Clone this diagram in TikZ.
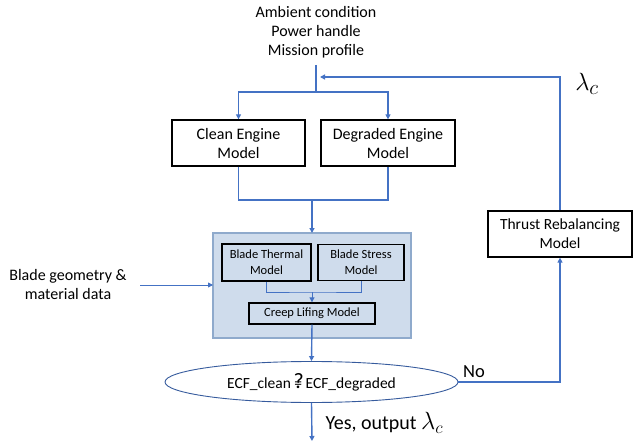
\documentclass[tikz,border=0pt]{standalone}
\usepackage{fontspec}
\setmainfont{Carlito}
\usetikzlibrary{arrows.meta,shapes.geometric}
\definecolor{flowblue}{HTML}{4472C4}
\definecolor{panelfill}{HTML}{CFDCEC}
\definecolor{paneledge}{HTML}{8FAACC}
\tikzset{
  flow/.style={draw=flowblue,line width=1.4pt},
  thinflow/.style={draw=flowblue,line width=0.8pt},
  tip/.style={-{Triangle[length=5pt,width=5pt]}},
  modelbox/.style={draw=black,line width=1.3pt,fill=white,align=center,inner sep=0pt},
  subbox/.style={draw=black,line width=1.3pt,fill=panelfill,align=center,inner sep=0pt,font=\fontsize{12.5}{16}\selectfont}
}
\begin{document}
\begin{tikzpicture}[x=1pt,y=-1pt,font=\fontsize{16}{19}\selectfont]
  \useasboundingbox (0,0) rectangle (633,444);
  % inputs
  \node[align=center] (inputs) at (316,32) {Ambient condition\\Power handle\\Mission profile};
  \node[align=center] (geom) at (68,285) {Blade geometry \&\\material data};
  % engine models
  \node[modelbox,minimum width=133pt,minimum height=46pt] (clean) at (238.5,143) {Clean Engine\\Model};
  \node[modelbox,minimum width=134pt,minimum height=46pt] (degr) at (388,143) {Degraded Engine\\Model};
  % lifing panel
  \draw[draw=paneledge,line width=1.2pt,fill=panelfill] (213,233) rectangle (411,338);
  \coordinate (panel) at (312,233);
  \coordinate (panelleft) at (213,285);
  \coordinate (geomend) at (140,285);
  \node[subbox,minimum width=89pt,minimum height=37pt] (thermal) at (266.5,262.5) {Blade Thermal\\Model};
  \node[subbox,minimum width=86pt,minimum height=36pt] (stress) at (361,262.5) {Blade Stress\\Model};
  \node[subbox,minimum width=126pt,minimum height=21pt] (creep) at (312,313.5) {Creep Lifing Model};
  % check
  \node[ellipse,draw=flowblue!80!black,line width=0.9pt,minimum width=293pt,minimum height=41pt,inner sep=0pt,font=\fontsize{15.5}{17}\selectfont] (check) at (311.5,382)
    {ECF\_clean\ \makebox[0pt][l]{=}\kern-1pt{\fontsize{22}{22}\selectfont ?}\kern2pt ECF\_degraded};
  \node[modelbox,minimum width=144pt,minimum height=46pt,font=\fontsize{15.5}{19}\selectfont] (thrust) at (560,234) {Thrust Rebalancing\\Model};
  \node[font=\fontsize{18.5}{18}\selectfont] (no) at (474,372) {No};
  \node[font=\fontsize{20}{20}\selectfont,anchor=west] (yes) at (322,423) {Yes, output {\fontsize{24}{24}\selectfont$\lambda_c$}};
  \node[font=\fontsize{30}{30}\selectfont] (lam) at (587,84) {$\lambda_c$};
  \coordinate (outend) at (312,441);
  % connectors
  \draw[flow] (316,65) -- (316,92);
  \draw[flow,tip] (316,92) -| (clean.north);
  \draw[flow,tip] (316,92) -| (degr.north);
  \draw[flow] (clean.south) |- (312,200) -| (degr.south);
  \draw[flow,tip] (312,200) -- (panel);
  \draw[thinflow,tip] (geomend) -- (panelleft);
  \draw[thinflow] (thermal.south) |- (312,292) -| (stress.south);
  \draw[thinflow,tip] (312,292) -- (creep.north);
  \draw[flow,tip] (creep.south) -- (check.north);
  \draw[flow,tip] (check.south) -- (outend);
  \draw[flow,tip] (check.east) -| (thrust.south);
  \draw[flow,tip] (thrust.north) |- (320,77);
\end{tikzpicture}
\end{document}
